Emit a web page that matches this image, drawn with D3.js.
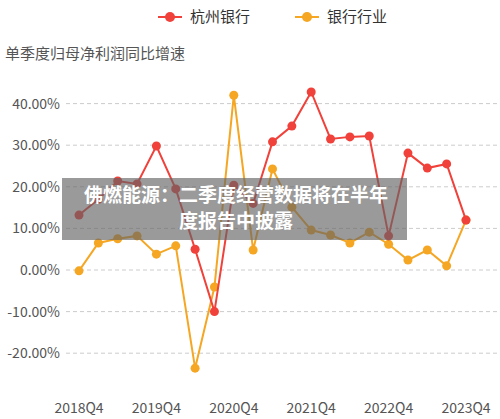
<!DOCTYPE html><html><head><meta charset="utf-8"><script src="https://cdn.jsdelivr.net/npm/d3@7"></script>
<style>body{margin:0;background:#fff}text{font-family:"Noto Sans CJK SC","Noto Sans",sans-serif}</style></head><body><svg id="c" width="500" height="419"></svg><script>
const quarters=["2018Q4","2019Q1","2019Q2","2019Q3","2019Q4","2020Q1","2020Q2","2020Q3","2020Q4","2021Q1","2021Q2","2021Q3","2021Q4","2022Q1","2022Q2","2022Q3","2022Q4","2023Q1","2023Q2","2023Q3","2023Q4"];
const hzBank=[13.2,17,21.4,20.7,29.8,19.5,5,-10,20.4,16,30.8,34.6,42.8,31.5,32,32.2,8.2,28.1,24.5,25.5,12];
const industry=[-0.2,6.5,7.5,8.2,3.8,5.8,-23.6,-4.1,42,4.8,24.3,15.1,9.6,8.4,6.5,9.1,6.2,2.4,4.8,1,12];
const yTicks=[-20,-10,0,10,20,30,40];
const xTicks=["2018Q4","2019Q4","2020Q4","2021Q4","2022Q4","2023Q4"];
const series=[{name:"杭州银行",color:"#f0413a",data:hzBank},{name:"银行行业",color:"#f5a623",data:industry}];
const svg=d3.select("#c");
const x=d3.scalePoint().domain(quarters).range([79,466]);
const y=d3.scaleLinear().domain([-30,40]).range([394.8,103.6]);
svg.append("g").selectAll("line").data(yTicks).join("line").attr("x1",66).attr("x2",500).attr("y1",d=>y(d)).attr("y2",d=>y(d)).attr("stroke","#ccc").attr("stroke-dasharray","4,3");
svg.append("g").selectAll("text").data(yTicks).join("text").attr("x",60).attr("y",d=>y(d)+5).attr("text-anchor","end").attr("font-size",14).attr("fill","#555").text(d=>d.toFixed(2)+"%");
svg.append("g").selectAll("text").data(xTicks).join("text").attr("x",d=>x(d)).attr("y",413).attr("text-anchor","middle").attr("font-size",14).attr("fill","#555").text(d=>d);
svg.append("text").attr("x",5).attr("y",59).attr("font-size",15).attr("fill","#555").text("单季度归母净利润同比增速");
const line=d3.line().x((d,i)=>x(quarters[i])).y(d=>y(d));
series.slice().reverse().forEach(s=>{
 svg.append("path").attr("d",line(s.data)).attr("fill","none").attr("stroke",s.color).attr("stroke-width",2);
 svg.append("g").selectAll("circle").data(s.data).join("circle").attr("cx",(d,i)=>x(quarters[i])).attr("cy",d=>y(d)).attr("r",4.5).attr("fill",s.color);
});
const lg=[170,307];
series.forEach((s,i)=>{const g=svg.append("g");
 g.append("line").attr("x1",lg[i]-12).attr("x2",lg[i]+12).attr("y1",17).attr("y2",17).attr("stroke",s.color).attr("stroke-width",2);
 g.append("circle").attr("cx",lg[i]).attr("cy",17).attr("r",5).attr("fill",s.color);
 g.append("text").attr("x",lg[i]+20).attr("y",22).attr("font-size",15).attr("fill","#333").text(s.name);});
svg.append("rect").attr("x",62).attr("y",178).attr("width",345).attr("height",62).attr("fill","rgba(100,100,100,0.65)");
svg.append("text").attr("x",236).attr("y",202).attr("text-anchor","middle").attr("font-size",19).attr("font-weight","bold").attr("fill","#fff").text("佛燃能源：二季度经营数据将在半年");
svg.append("text").attr("x",236).attr("y",228).attr("text-anchor","middle").attr("font-size",19).attr("font-weight","bold").attr("fill","#fff").text("度报告中披露");
</script></body></html>
